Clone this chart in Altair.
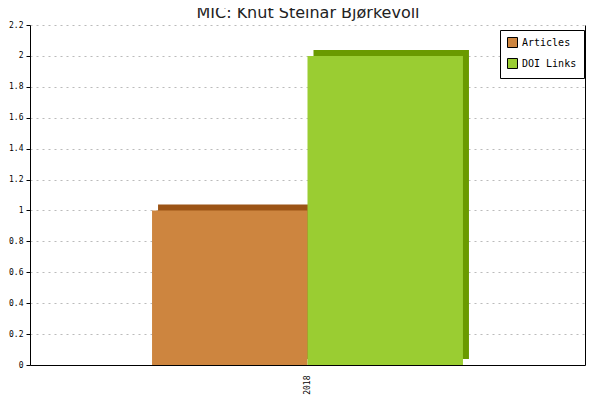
import altair as alt
import pandas as pd

years = ["2018", "2018"]
series = ["Articles", "DOI Links"]
values = [1, 2]
colors = ["#CD853F", "#9ACD32"]
dark_colors = ["#9C5416", "#6A9A00"]
title_text = "MIC: Knut Steinar Bjørkevoll"

df = pd.DataFrame({"year": years, "series": series, "value": values})

mono = "DejaVu Sans Mono"
yscale = alt.Scale(domain=[0, 2.2], nice=False)
ticks = [0, 0.2, 0.4, 0.6, 0.8, 1, 1.2, 1.4, 1.6, 1.8, 2, 2.2]
xs = alt.Scale(paddingInner=0, paddingOuter=0.785)

base = alt.Chart(df)

axes = base.mark_bar(opacity=0).encode(
    x=alt.X("year:N", title=None,
            axis=alt.Axis(labelAngle=-90, labelFont=mono, labelFontSize=8, ticks=False,
                          domainColor="black", labelColor="black", labelPadding=10,
                          labelBaseline="middle")),
    y=alt.Y("value:Q", scale=yscale, title=None,
            axis=alt.Axis(values=ticks, format=".1~f", labelFont=mono, labelFontSize=8,
                          labelColor="black", domainColor="black", tickColor="black",
                          tickSize=4, grid=True, gridDash=[2, 4], gridColor="#bbbbbb",
                          labelPadding=3)),
)

right = base.mark_bar(opacity=0).encode(
    y=alt.Y("value:Q", scale=yscale, title=None,
            axis=alt.Axis(orient="right", labels=False, ticks=False, grid=False,
                          domainColor="black")),
)

depth = base.mark_bar(xOffset=6, yOffset=-6).encode(
    x=alt.X("series:N", scale=xs, title=title_text,
            axis=alt.Axis(orient="top", labels=False, ticks=False, domain=False,
                          grid=False, titleFont="DejaVu Sans", titleFontSize=16,
                          titleFontWeight="normal", titleColor="#222222",
                          titlePadding=5)),
    y=alt.Y("value:Q", scale=yscale, axis=None),
    color=alt.Color("series:N", scale=alt.Scale(domain=series, range=dark_colors), legend=None),
)

bars = base.mark_bar().encode(
    x=alt.X("series:N", scale=xs, axis=None),
    y=alt.Y("value:Q", scale=yscale, axis=None),
    color=alt.Color("series:N", scale=alt.Scale(domain=series, range=colors),
                    legend=alt.Legend(title=None, orient="none", legendX=470, legendY=5,
                                      labelFont=mono, labelFontSize=10, labelColor="black",
                                      symbolType="square",
                                      symbolSize=100, symbolStrokeColor="black",
                                      symbolStrokeWidth=1, fillColor="white",
                                      strokeColor="black", padding=7, rowPadding=6)),
)

chart = alt.layer(axes, right, depth, bars).resolve_scale(
    x="independent", color="independent"
).resolve_axis(y="independent", x="independent").properties(
    width=555, height=340,
    padding={"left": 22, "top": 17, "right": 7, "bottom": 35},
    autosize=alt.AutoSizeParams(type="none"),
).configure_view(stroke=None)

chart.save("out.html", embed_options={"renderer": "svg", "actions": False})
